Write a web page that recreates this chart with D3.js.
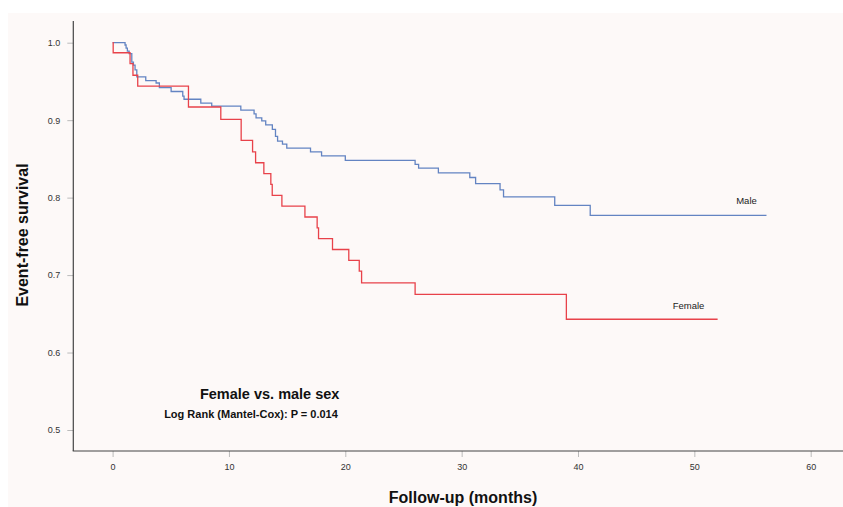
<!DOCTYPE html>
<html><head><meta charset="utf-8">
<script src="https://cdn.jsdelivr.net/npm/d3@7"></script>
<style>
html,body{margin:0;padding:0;background:#ffffff;}
svg{display:block;font-family:"Liberation Sans",Arial,sans-serif;}
</style></head>
<body>
<svg id="chart" width="843" height="507"></svg>
<script>
// ---- data ----
const femaleTimes = [0, 0.05, 1.5, 1.75, 2.16, 6.52, 9.3, 11.05, 12.03, 12.29, 13.0, 13.6, 13.72, 14.55, 16.53, 17.58, 17.7, 18.9, 20.3, 21.2, 21.4, 26.0, 39.0, 52.0];
const femaleSurv  = [1.0, 0.987, 0.973, 0.958, 0.944, 0.917, 0.901, 0.874, 0.859, 0.845, 0.831, 0.817, 0.803, 0.789, 0.775, 0.761, 0.747, 0.733, 0.719, 0.705, 0.690, 0.675, 0.643, 0.643];
const maleTimes = [0, 1.07, 1.16, 1.27, 1.42, 1.65, 1.79, 1.93, 2.08, 2.85, 3.74, 4.02, 5.03, 6.03, 6.14, 7.58, 8.52, 11.02, 12.16, 12.33, 12.82, 13.16, 13.73, 14.0, 14.18, 14.6, 14.97, 17.01, 17.96, 20.0, 26.0, 26.3, 28.0, 30.7, 31.2, 33.3, 33.6, 38.0, 41.05, 56.2];
const maleSurv  = [1.0, 0.997, 0.993, 0.989, 0.986, 0.975, 0.971, 0.965, 0.956, 0.951, 0.948, 0.942, 0.937, 0.931, 0.927, 0.922, 0.918, 0.913, 0.908, 0.903, 0.899, 0.894, 0.888, 0.879, 0.873, 0.869, 0.864, 0.859, 0.854, 0.848, 0.843, 0.838, 0.832, 0.826, 0.818, 0.810, 0.801, 0.790, 0.777, 0.777];
const xTicks = [0, 10, 20, 30, 40, 50, 60];
const yTicks = [0.5, 0.6, 0.7, 0.8, 0.9, 1.0];
const seriesNames = ["Male", "Female"];
const titleText = "Female vs. male sex";
const statText = "Log Rank (Mantel-Cox): P = 0.014";
const xTitle = "Follow-up (months)";
const yTitle = "Event-free survival";

// ---- drawing ----
const svg = d3.select("#chart");
svg.append("rect").attr("x", 8).attr("y", 13).attr("width", 835).attr("height", 494).attr("fill", "#fdf9f8");

const x = d3.scaleLinear().domain([0, 60]).range([112.6, 810.7]);
const y = d3.scaleLinear().domain([0.5, 1.0]).range([430, 42.7]);

const axisColor = "#444";
const tickColor = "#bbb";

// y axis
const gy = svg.append("g").attr("transform", "translate(73.3,0)")
  .call(d3.axisLeft(y).tickValues(yTicks).tickFormat(d3.format(".1f")).tickSize(6).tickPadding(7).tickSizeOuter(0));
gy.select(".domain").remove();
gy.selectAll(".tick line").attr("stroke", tickColor);
gy.selectAll(".tick text").attr("fill", "#333").style("font-size", "9px").style("font-family", "'Liberation Sans',Arial,sans-serif");
svg.append("line").attr("x1", 73.3).attr("x2", 73.3).attr("y1", 21).attr("y2", 451).attr("stroke", axisColor).attr("stroke-width", 1.2);

// x axis
const gx = svg.append("g").attr("transform", "translate(0,451)")
  .call(d3.axisBottom(x).tickValues(xTicks).tickFormat(d3.format("d")).tickSize(6).tickPadding(7).tickSizeOuter(0));
gx.select(".domain").remove();
gx.selectAll(".tick line").attr("stroke", tickColor);
gx.selectAll(".tick text").attr("fill", "#333").style("font-size", "9px").style("font-family", "'Liberation Sans',Arial,sans-serif");
svg.append("line").attr("x1", 72.7).attr("x2", 843).attr("y1", 451).attr("y2", 451).attr("stroke", axisColor).attr("stroke-width", 1.2);

// curves
const stepLine = d3.line().x(d => x(d[0])).y(d => y(d[1])).curve(d3.curveStepAfter);
const maleData = maleTimes.map((t, i) => [t, maleSurv[i]]);
const femaleData = femaleTimes.map((t, i) => [t, femaleSurv[i]]);

svg.append("path").datum(maleData).attr("d", stepLine).attr("fill", "none").attr("stroke", "#6384c2").attr("stroke-width", 1.3);
svg.append("path").datum(femaleData).attr("d", stepLine).attr("fill", "none").attr("stroke", "#e8424a").attr("stroke-width", 1.3);

// series labels
svg.append("text").attr("x", 746.5).attr("y", 204).attr("text-anchor", "middle")
  .style("font-size", "9.5px").attr("fill", "#222").text(seriesNames[0]);
svg.append("text").attr("x", 688.5).attr("y", 309).attr("text-anchor", "middle")
  .style("font-size", "9.5px").attr("fill", "#222").text(seriesNames[1]);

// annotations
svg.append("text").attr("x", 269.7).attr("y", 398.5).attr("text-anchor", "middle")
  .style("font-size", "14.5px").style("font-weight", "bold").attr("fill", "#111").text(titleText);
svg.append("text").attr("x", 251).attr("y", 418.3).attr("text-anchor", "middle")
  .style("font-size", "11px").style("font-weight", "bold").attr("fill", "#111").text(statText);

// axis titles
svg.append("text").attr("x", 463).attr("y", 502.5).attr("text-anchor", "middle")
  .style("font-size", "16px").style("font-weight", "bold").attr("fill", "#111").text(xTitle);
svg.append("text").attr("transform", "translate(27.5,235) rotate(-90)").attr("text-anchor", "middle")
  .style("font-size", "16px").style("font-weight", "bold").attr("fill", "#111").text(yTitle);
</script>
</body></html>
